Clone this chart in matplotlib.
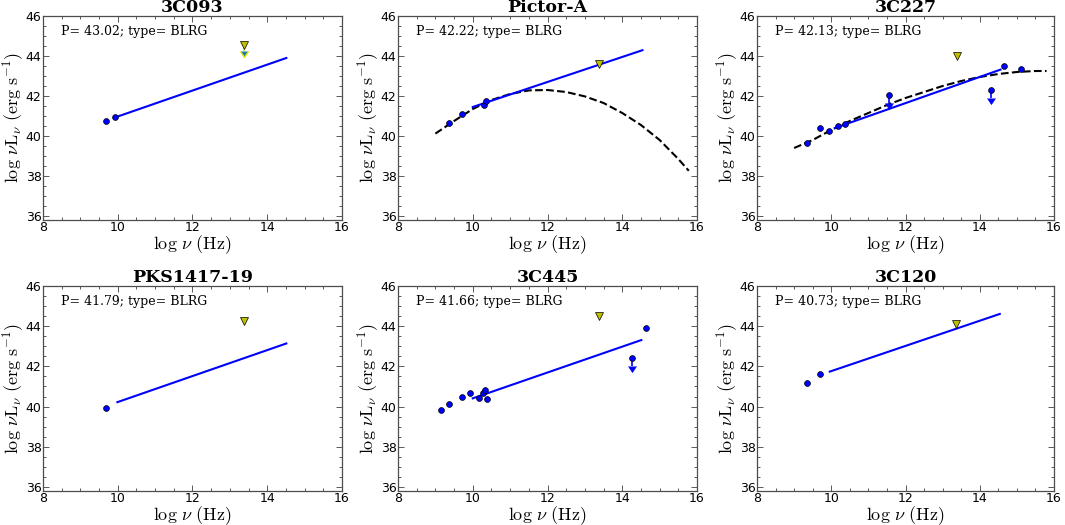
import matplotlib
matplotlib.use("Agg")
import matplotlib.pyplot as plt
from matplotlib.ticker import MultipleLocator

plt.rcParams['mathtext.fontset'] = 'cm'
plt.rcParams['font.family'] = 'DejaVu Sans'

# ---- data ----
names = ['3C093', 'Pictor-A', '3C227', 'PKS1417-19', '3C445', '3C120']
powers = ['43.02', '42.22', '42.13', '41.79', '41.66', '40.73']
types = ['BLRG'] * 6

# detections (log nu, log nuLnu)
det_x = [
    [9.68, 9.92],
    [9.37, 9.70, 10.29, 10.35],
    [9.36, 9.69, 9.93, 10.18, 10.37, 14.66, 15.11],
    [9.69],
    [9.16, 9.37, 9.71, 9.93, 10.18, 10.27, 10.34, 10.37, 14.63],
    [9.36, 9.69],
]
det_y = [
    [40.75, 40.97],
    [40.63, 41.09, 41.57, 41.76],
    [39.63, 40.38, 40.23, 40.49, 40.61, 43.49, 43.37],
    [39.91],
    [39.81, 40.15, 40.46, 40.68, 40.44, 40.68, 40.81, 40.39, 43.91],
    [41.17, 41.62],
]
# upper limits (blue, with arrows)
ul_x = [[], [], [11.55, 14.29], [], [14.27], []]
ul_y = [[], [], [42.04, 42.32], [], [42.41], []]
# IR upper limit (yellow triangle)
tri_x = [13.38, 13.39, 13.38, 13.37, 13.37, 13.37]
tri_y = [44.57, 43.59, 43.99, 44.26, 44.49, 44.10]
tri_arrow = [True, False, False, False, False, False]
# power-law line endpoints
line_x = [[9.93, 14.51], [10.0, 14.54], [10.1, 14.56], [9.99, 14.51], [10.0, 14.51], [9.96, 14.54]]
line_y = [[40.93, 43.90], [41.45, 44.29], [40.40, 43.32], [40.22, 43.14], [40.41, 43.31], [41.74, 44.61]]
# dashed curved fits
curve_x = [
    None,
    [9.0, 9.5, 10.0, 10.5, 11.0, 11.5, 12.0, 12.5, 13.0, 13.5, 14.0, 14.5, 15.0, 15.5, 15.78],
    [9.0, 9.5, 10.0, 10.5, 11.0, 11.5, 12.0, 12.5, 13.0, 13.5, 14.0, 14.5, 15.0, 15.5, 15.8],
    None, None, None,
]
curve_y = [
    None,
    [40.12, 40.75, 41.35, 41.80, 42.10, 42.28, 42.30, 42.20, 41.98, 41.65, 41.15, 40.55, 39.80, 38.85, 38.26],
    [39.40, 39.80, 40.30, 40.75, 41.15, 41.55, 41.90, 42.20, 42.50, 42.75, 42.95, 43.10, 43.20, 43.25, 43.25],
    None, None, None,
]

fig = plt.figure(figsize=(10.65, 5.25), dpi=100)
lefts = [43, 398, 757]
rights = [342, 697, 1054]
tops = [16, 286]
bottoms = [220, 491]
W, H = 1065.0, 525.0

yellow = (0.75, 0.75, 0.0)
for i in range(6):
    r, c = divmod(i, 3)
    ax = fig.add_axes([lefts[c] / W, 1 - bottoms[r] / H,
                       (rights[c] - lefts[c]) / W, (bottoms[r] - tops[r]) / H])
    ax.set_xlim(8, 16)
    ax.set_ylim(35.8, 46)
    ax.xaxis.set_major_locator(MultipleLocator(2))
    ax.xaxis.set_minor_locator(MultipleLocator(0.5))
    ax.yaxis.set_major_locator(MultipleLocator(2))
    ax.yaxis.set_minor_locator(MultipleLocator(0.5))
    ax.tick_params(which='both', direction='in', top=True, right=True, labelsize=9,
                   color='0.35')
    ax.tick_params(which='major', length=4.5, width=0.7, pad=1)
    ax.tick_params(which='minor', length=2.5, width=0.7)
    for s in ax.spines.values():
        s.set_linewidth(0.9)
        s.set_color('0.3')

    if curve_x[i] is not None:
        ax.plot(curve_x[i], curve_y[i], '--', color='black', lw=1.5, zorder=2)
    ax.plot(line_x[i], line_y[i], '-', color='blue', lw=1.5, zorder=3)
    ax.plot(det_x[i], det_y[i], 'o', color='blue', mec='black', mew=0.5, ms=4.2, zorder=4)
    if ul_x[i]:
        ax.errorbar(ul_x[i], ul_y[i], yerr=0.4, uplims=True, fmt='o', color='blue',
                    mec='black', mew=0.5, ms=4.2, elinewidth=1.2, capsize=0, zorder=4)
    if tri_arrow[i]:
        ax.errorbar([tri_x[i]], [tri_y[i]], yerr=0.3, uplims=True, fmt='none',
                    ecolor=(0.9, 0.9, 0.0), elinewidth=1.2, zorder=3)
    ax.plot([tri_x[i]], [tri_y[i]], 'v', color=yellow, mec='black', mew=0.5, ms=5.5, zorder=5)

    ax.text(0.06, 0.925, 'P= %s; type= %s' % (powers[i], types[i]), transform=ax.transAxes,
            family='DejaVu Serif', fontsize=9, va='center', ha='left')
    ax.set_title(names[i], family='DejaVu Serif', fontweight='bold', fontsize=12.5, pad=2)
    ax.set_xlabel(r'$\log\,\nu\ \mathrm{(Hz)}$', fontsize=13, labelpad=-1)
    ax.set_ylabel(r'$\log\,\nu\mathrm{L}_{\nu}\ \mathrm{(erg\ s^{-1})}$', fontsize=13, labelpad=0)

fig.savefig('out.png', dpi=100)
